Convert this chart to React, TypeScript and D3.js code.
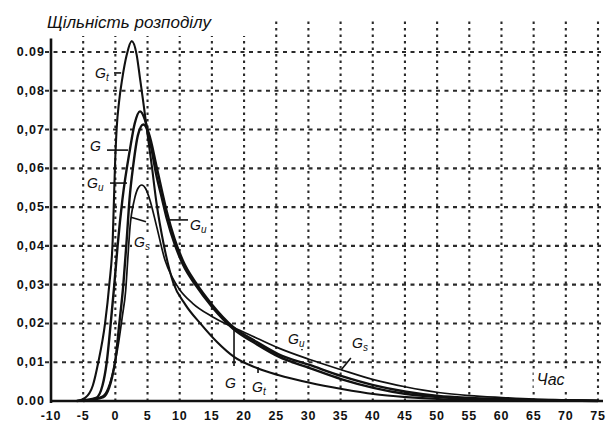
import React from "react";
import * as d3 from "d3";

// ---- data ----
const xTickValues = [-10, -5, 0, 5, 10, 15, 20, 25, 30, 35, 40, 45, 50, 55, 60, 65, 70, 75];
const xTickLabels = ["-10", "-5", "0", "5", "10", "15", "20", "25", "30", "35", "40", "45", "50", "55", "60", "65", "70", "75"];
const yTickValues = [0, 0.01, 0.02, 0.03, 0.04, 0.05, 0.06, 0.07, 0.08, 0.09];
const yTickLabels = ["0.00", "0,01", "0,02", "0,03", "0,04", "0,05", "0,06", "0,07", "0,08", "0.09"];

const seriesGt: [number, number][] = [
  [-6, 0], [-4.7, 0.0008], [-3.5, 0.004], [-2.65, 0.01], [-1.6, 0.02], [-0.94, 0.03], [-0.41, 0.0415],
  [-0.05, 0.061], [0.21, 0.0704], [0.57, 0.0771], [1.08, 0.0832], [1.76, 0.0892], [2.54, 0.0928],
  [3.32, 0.0892], [3.83, 0.0832], [4.34, 0.0771], [4.87, 0.0704], [5.65, 0.0608], [6.4, 0.051],
  [7.5, 0.0405], [9.0, 0.0305], [10.9, 0.0248], [13.2, 0.0200], [15.8, 0.0152], [18.5, 0.0113],
  [22, 0.0085], [25.3, 0.0067], [30.2, 0.0047], [35.2, 0.0031], [40.1, 0.0018], [45.2, 0.001],
  [50.2, 0.0005], [55, 0.0003], [60, 0.0002], [75, 0.0],
];
const seriesG: [number, number][] = [
  [-6, 0], [-3, 0.0008], [-2, 0.004], [-1.34, 0.01], [-0.72, 0.02], [-0.16, 0.03], [0.35, 0.04],
  [1.1, 0.052], [2.28, 0.065], [3.0, 0.0715], [3.83, 0.0747], [4.6, 0.0725], [5.5, 0.066], [6.4, 0.058],
  [7.2, 0.0525], [8.0, 0.047], [9.2, 0.0405], [10.5, 0.0352], [12.5, 0.0298], [15, 0.0243], [18.3, 0.0186],
  [22, 0.0146], [25.3, 0.0115], [30.2, 0.0085], [35.2, 0.0056], [40.1, 0.0034], [45.2, 0.0018],
  [50.2, 0.001], [55, 0.0006], [60, 0.0003], [70, 0.0001], [75, 0.0],
];
const seriesGu: [number, number][] = [
  [-5, 0], [-1.87, 0.001], [-0.05, 0.01], [0.62, 0.02], [1.24, 0.03], [1.76, 0.0415], [2.2, 0.052],
  [2.8, 0.061], [3.5, 0.0685], [4.35, 0.0713], [5.2, 0.069], [6.4, 0.0605], [7.2, 0.0545], [8.0, 0.0488],
  [9.2, 0.0418], [10.5, 0.0362], [12.5, 0.0305], [15, 0.0249], [18.3, 0.0191], [22, 0.0152], [25.3, 0.0121],
  [30.2, 0.0093], [35.2, 0.0064], [40.1, 0.0041], [45.2, 0.0024], [50.2, 0.0013], [55, 0.0008],
  [60, 0.0005], [70, 0.0002], [75, 0.0001],
];
const seriesGs: [number, number][] = [
  [-5, 0], [-2, 0.0012], [-0.3, 0.008], [0.5, 0.015], [1.1, 0.022], [1.61, 0.0286], [1.92, 0.0363],
  [2.28, 0.0449], [2.94, 0.0518], [3.5, 0.0548], [4.09, 0.0557], [4.7, 0.0548], [5.38, 0.0518],
  [6.43, 0.0449], [7.72, 0.0363], [8.8, 0.032], [10, 0.0287], [12, 0.0252], [15, 0.0218], [18.3, 0.019],
  [22, 0.0162], [25.3, 0.0137], [30.2, 0.0107], [35.2, 0.008], [40.1, 0.0055], [45.2, 0.0036],
  [50.2, 0.0022], [55, 0.0014], [60, 0.0009], [65, 0.0005], [70, 0.0003], [75, 0.0001],
];

// annotation labels: subscript, label anchor (t, v), pointer segment (t1, v1, t2, v2)
const labelSubs = ["t", "", "u", "s", "u", "", "t", "u", "s"];
const labelPos: [number, number][] = [
  [-3.16, 0.0833], [-3.94, 0.0645], [-4.4, 0.0549], [2.9, 0.0397], [11.6, 0.0441],
  [17.04, 0.0034], [21.24, 0.0023], [26.83, 0.0147], [36.78, 0.0137],
];
const pointers: [number, number, number, number][] = [
  [-0.37, 0.0846, 0.9, 0.0846],
  [-1.3, 0.0647, 1.97, 0.0647],
  [-0.83, 0.0562, 1.81, 0.0562],
  [2.43, 0.0474, 4.76, 0.0462],
  [8.49, 0.0467, 11.45, 0.0467],
  [18.44, 0.0183, 18.44, 0.009],
  [22.17, 0.0087, 22.17, 0.0072],
  [29.0, 0.0144, 29.0, 0.0131],
  [36.6, 0.0111, 35.07, 0.008],
];

const titleText = "Щільність розподілу";
const xTitle = "Час";

export default function App() {
  const W = 608, H = 425;
  const x = d3.scaleLinear().domain([-10, 75]).range([51, 598]);
  const y = d3.scaleLinear().domain([0, 0.09]).range([401, 52]);
  const gridTop = y(0.0981);
  const line = d3
    .line<[number, number]>()
    .x((d) => x(d[0]))
    .y((d) => y(d[1]))
    .curve(d3.curveMonotoneX);

  const curves = [
    { d: seriesGt, w: 2.1 },
    { d: seriesGs, w: 1.7 },
    { d: seriesGu, w: 2.4 },
    { d: seriesG, w: 2.4 },
  ];
  const ink = "#111";
  const labelFont = "'Liberation Sans', Arial, sans-serif";

  return (
    <svg
      width={W}
      height={H}
      style={{ position: "absolute", left: 0, top: 0, background: "#fff" }}
      fontFamily={labelFont}
    >
      <rect x={0} y={0} width={W} height={H} fill="#fff" />
      {/* grid */}
      {xTickValues.slice(1).map((v) => (
        <line key={"gx" + v} x1={x(v)} x2={x(v)} y1={y(0)} y2={gridTop} stroke="#2a2a2a" strokeWidth={2.1} strokeDasharray="2.5,4" />
      ))}
      {yTickValues.slice(1).map((v) => (
        <line key={"gy" + v} x1={45} x2={x(75) + 3} y1={y(v)} y2={y(v)} stroke="#2a2a2a" strokeWidth={2.1} strokeDasharray="4,4.5" />
      ))}
      {/* title background */}
      <rect x={40} y={0} width={225} height={36} fill="#fff" />
      {/* axes */}
      <line x1={x(-10)} x2={x(-10)} y1={y(0) + 2} y2={y(0.0935)} stroke={ink} strokeWidth={2.6} />
      <line x1={x(-10)} x2={x(75) + 5} y1={y(0)} y2={y(0)} stroke={ink} strokeWidth={2.6} />
      {/* tick labels */}
      {yTickValues.map((v, i) => (
        <text key={"yl" + v} x={45} y={y(v) + 4} textAnchor="end" fontSize={12.5} fontWeight="bold" fill={ink} letterSpacing={1}>
          {yTickLabels[i]}
        </text>
      ))}
      {xTickValues.map((v, i) => (
        <text key={"xl" + v} x={x(v)} y={420} textAnchor="middle" fontSize={12.5} fontWeight="bold" fill={ink} letterSpacing={0.8}>
          {xTickLabels[i]}
        </text>
      ))}
      {/* curves */}
      {curves.map((c, i) => (
        <path key={"c" + i} d={line(c.d) || ""} fill="none" stroke={ink} strokeWidth={c.w} strokeLinejoin="round" />
      ))}
      {/* pointers */}
      {pointers.map((p, i) => (
        <line key={"p" + i} x1={x(p[0])} y1={y(p[1])} x2={x(p[2])} y2={y(p[3])} stroke={ink} strokeWidth={1.6} />
      ))}
      {/* labels */}
      {labelPos.map((p, i) => {
        const sub = labelSubs[i];
        const w = sub ? 17 : 11;
        const lx = x(p[0]);
        const ly = y(p[1]);
        return (
          <g key={"l" + i}>
            <rect x={lx - 2} y={ly - 13} width={w + 4} height={18} fill="#fff" />
            <text x={lx} y={ly} fontSize={14} fontStyle="italic" fill={ink}>
              G
              {sub ? (
                <tspan fontSize={10} dy={3}>
                  {sub}
                </tspan>
              ) : null}
            </text>
          </g>
        );
      })}
      {/* axis titles */}
      <rect x={x(65.0)} y={y(0.0041) - 14} width={36} height={19} fill="#fff" />
      <text x={x(65.5)} y={y(0.0041)} fontSize={16} fontStyle="italic" fill={ink}>
        {xTitle}
      </text>
      <text x={47} y={28} fontSize={17} fontStyle="italic" fill={ink}>
        {titleText}
      </text>
    </svg>
  );
}
